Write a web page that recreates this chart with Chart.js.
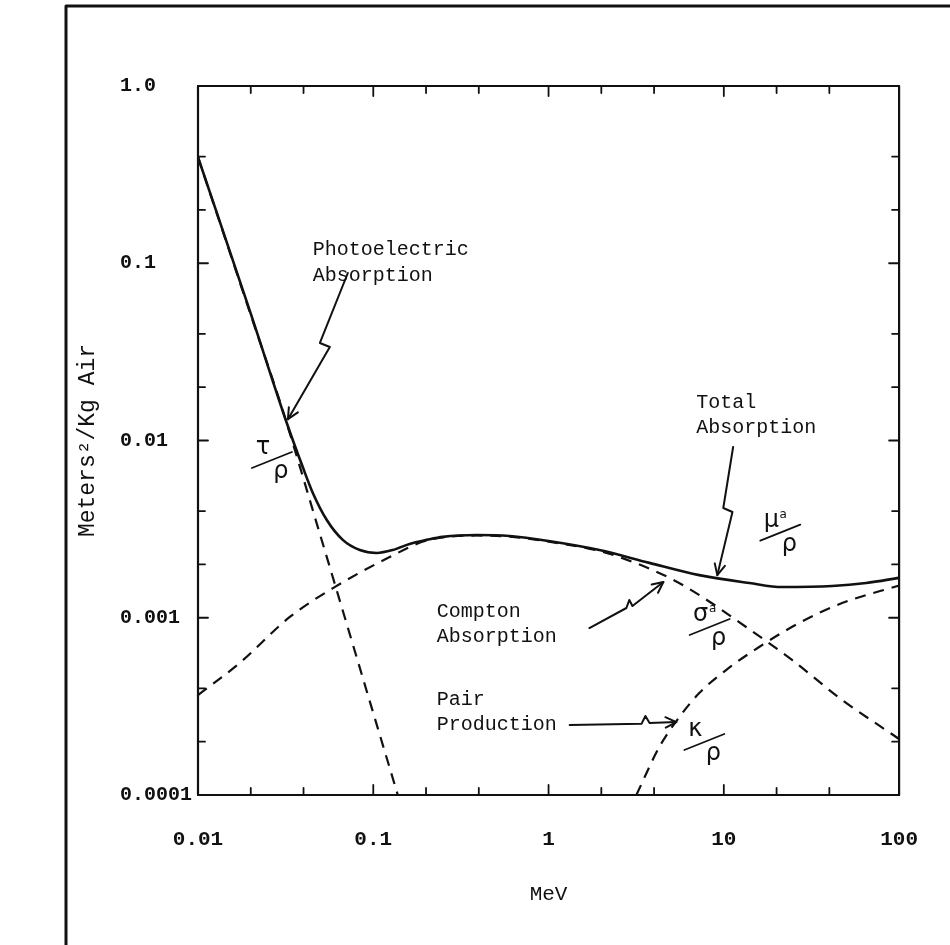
<!DOCTYPE html>
<html>
<head>
<meta charset="utf-8">
<script src="https://cdn.jsdelivr.net/npm/chart.js@4.4.1/dist/chart.umd.min.js"></script>
<style>
  html, body { margin: 0; padding: 0; background: #fff; }
  #wrap { width: 950px; height: 945px; }
</style>
</head>
<body>
<div id="wrap"><canvas id="absChart" width="950" height="945"></canvas></div>
<script>
/**************************************
 * MASS ABSORPTION COEFFICIENTS OF AIR
 **************************************/

/* ---------- AXES ---------- */
const X_TICKS = [0.01, 0.1, 1, 10, 100];
const X_LABELS = ["0.01", "0.1", "1", "10", "100"];
const Y_TICKS = [0.0001, 0.001, 0.01, 0.1, 1];
const Y_LABELS = ["0.0001", "0.001", "0.01", "0.1", "1.0"];
const MINOR_STEPS = [2, 4];

/* ---------- SERIES (MeV, m^2/kg) ---------- */
// total absorption  mu_a / rho
const TOTAL_MEV = [0.01, 0.02, 0.0321, 0.0396, 0.0452, 0.0543, 0.067, 0.0838, 0.1047, 0.129,
                   0.161, 0.202, 0.249, 0.389, 0.6, 1.0, 1.95, 3.76, 7.24, 14.0, 21.5, 41.5, 64.9, 100];
const TOTAL_VAL = [0.397, 0.052, 0.01256, 0.00708, 0.00506, 0.00356, 0.00275, 0.00241, 0.00232, 0.00241,
                   0.00261, 0.00275, 0.00286, 0.00293, 0.00289, 0.00271, 0.00241, 0.00204, 0.00174, 0.00157, 0.00149, 0.00151, 0.00157, 0.00168];

// photoelectric  tau / rho
const PHOTO_MEV = [0.01, 0.02, 0.03, 0.05, 0.08, 0.1, 0.138];
const PHOTO_VAL = [0.397, 0.0511, 0.01545, 0.00289, 0.000608, 0.00029, 0.0001];

// compton  sigma_a / rho
const COMPTON_MEV = [0.01, 0.0173, 0.0334, 0.0589, 0.124, 0.2, 0.389, 0.6, 1.0, 1.95, 2.54,
                     4.89, 7.53, 13.4, 24.5, 47.3, 100];
const COMPTON_VAL = [0.000366, 0.000556, 0.00101, 0.00147, 0.0022, 0.00272, 0.00291, 0.00287, 0.00269, 0.00238, 0.0022,
                     0.00168, 0.00131, 0.000887, 0.000578, 0.000344, 0.000207];

// pair production  kappa / rho
const PAIR_MEV = [3.17, 4.29, 5.57, 7.24, 10.3, 15.9, 26.9, 47.3, 100];
const PAIR_VAL = [0.0001, 0.000187, 0.000275, 0.000376, 0.000507, 0.000684, 0.000934, 0.00121, 0.00152];

/* ---------- ANNOTATIONS (data units) ---------- */
const NOTES = [
  { lines: ["Photoelectric", "Absorption"], mev: 0.0452, val: [0.119, 0.0848] },
  { lines: ["Total", "Absorption"], mev: 6.97, val: [0.0163, 0.01177] },
  { lines: ["Compton", "Absorption"], mev: 0.23, val: [0.00108, 0.000778] },
  { lines: ["Pair", "Production"], mev: 0.23, val: [0.000344, 0.000248] }
];

const ARROWS = [
  [[0.0716, 0.0881], [0.0496, 0.0355], [0.0565, 0.0337], [0.0326, 0.0132]],
  [[11.3, 0.00919], [9.93, 0.00416], [11.2, 0.00395], [9.18, 0.00174]],
  [[1.71, 0.000875], [2.78, 0.001135], [2.89, 0.00126], [3.01, 0.001165], [4.52, 0.00159]],
  [[1.32, 0.000248], [3.39, 0.000252], [3.57, 0.000279], [3.77, 0.000255], [5.36, 0.000258]]
];

const FRACTIONS = [
  { num: "τ", sub: "", mev: 0.0264, val: 0.00776 },
  { num: "μ", sub: "a", mev: 21.0, val: 0.00302 },
  { num: "σ", sub: "a", mev: 8.3, val: 0.000887 },
  { num: "κ", sub: "", mev: 7.74, val: 0.000199 }
];

/* ---------- STYLE ---------- */
const INK = "#111";
const MONO = "'Liberation Mono', 'DejaVu Sans Mono', monospace";

function toPoints(xs, ys) {
  return xs.map((x, i) => ({ x, y: ys[i] }));
}

function labelFor(list, labels, v) {
  const i = list.findIndex(t => Math.abs(t - v) / t < 1e-6);
  return i >= 0 ? labels[i] : "";
}

function lineSet(label, xs, ys, dashed) {
  return {
    label,
    data: toPoints(xs, ys),
    borderColor: INK,
    borderWidth: dashed ? 2.2 : 2.6,
    borderDash: dashed ? [11, 8] : [],
    pointRadius: 0,
    fill: false,
    cubicInterpolationMode: "monotone"
  };
}

/* ---------- DECORATION PLUGIN ---------- */
const paperPlugin = {
  id: "paper",
  beforeDraw(chart) {
    const c = chart.ctx;
    c.save();
    c.fillStyle = "#fff";
    c.fillRect(0, 0, chart.width, chart.height);
    c.restore();
  },
  afterDraw(chart) {
    const c = chart.ctx;
    const a = chart.chartArea;
    const xs = chart.scales.x;
    const ys = chart.scales.y;
    const px = v => xs.getPixelForValue(v);
    const py = v => ys.getPixelForValue(v);

    c.save();
    c.strokeStyle = INK;
    c.fillStyle = INK;
    c.lineCap = "round";
    c.lineJoin = "round";

    // sheet frame
    c.lineWidth = 3;
    c.beginPath();
    c.moveTo(66, chart.height);
    c.lineTo(66, 6);
    c.lineTo(chart.width, 6);
    c.stroke();

    // plot box
    c.lineWidth = 2.2;
    c.strokeRect(a.left, a.top, a.right - a.left, a.bottom - a.top);

    // inward ticks on all four sides
    c.lineWidth = 1.8;
    const tickSet = (decades) => {
      const out = [];
      decades.forEach((d, i) => {
        out.push({ v: d, major: true });
        if (i < decades.length - 1) MINOR_STEPS.forEach(m => out.push({ v: d * m, major: false }));
      });
      return out;
    };
    tickSet(X_TICKS).forEach(t => {
      const x = px(t.v);
      const len = t.major ? 10 : 7;
      c.beginPath();
      c.moveTo(x, a.bottom); c.lineTo(x, a.bottom - len);
      c.moveTo(x, a.top); c.lineTo(x, a.top + len);
      c.stroke();
    });
    tickSet(Y_TICKS).forEach(t => {
      const y = py(t.v);
      const len = t.major ? 10 : 7;
      c.beginPath();
      c.moveTo(a.left, y); c.lineTo(a.left + len, y);
      c.moveTo(a.right, y); c.lineTo(a.right - len, y);
      c.stroke();
    });

    // y axis title
    c.save();
    c.translate(88, (a.top + a.bottom) / 2);
    c.rotate(-Math.PI / 2);
    c.font = "23px " + MONO;
    c.textAlign = "center";
    c.textBaseline = "middle";
    c.fillText("Meters²/Kg Air", 0, 0);
    c.restore();

    // text notes
    c.font = "20px " + MONO;
    c.textAlign = "left";
    c.textBaseline = "middle";
    NOTES.forEach(n => {
      n.lines.forEach((t, i) => c.fillText(t, px(n.mev), py(n.val[i])));
    });

    // squiggle arrows
    c.lineWidth = 2;
    ARROWS.forEach(pts => {
      const p = pts.map(q => [px(q[0]), py(q[1])]);
      c.beginPath();
      c.moveTo(p[0][0], p[0][1]);
      p.slice(1).forEach(q => c.lineTo(q[0], q[1]));
      c.stroke();
      const [tx, ty] = p[p.length - 1];
      const [sx, sy] = p[p.length - 2];
      const ang = Math.atan2(ty - sy, tx - sx);
      c.beginPath();
      [-0.45, 0.45].forEach(d => {
        c.moveTo(tx, ty);
        c.lineTo(tx - 12 * Math.cos(ang + d), ty - 12 * Math.sin(ang + d));
      });
      c.stroke();
    });

    // hand lettered fractions
    FRACTIONS.forEach(f => {
      const cx = px(f.mev);
      const cy = py(f.val);
      c.font = "24px 'DejaVu Sans', sans-serif";
      c.textAlign = "center";
      c.textBaseline = "middle";
      c.fillText(f.num, cx - 9, cy - 12);
      if (f.sub) {
        c.font = "12px 'DejaVu Sans', sans-serif";
        c.fillText(f.sub, cx + 3, cy - 18);
      }
      c.font = "24px 'DejaVu Sans', sans-serif";
      c.fillText("ρ", cx + 9, cy + 12);
      c.lineWidth = 1.8;
      c.beginPath();
      c.moveTo(cx - 20, cy + 8);
      c.lineTo(cx + 20, cy - 8);
      c.stroke();
    });

    c.restore();
  }
};

/* ---------- CHART ---------- */
const ctx = document.getElementById("absChart").getContext("2d");

const chart = new Chart(ctx, {
  type: "line",
  data: {
    datasets: [
      lineSet("Total Absorption", TOTAL_MEV, TOTAL_VAL, false),
      lineSet("Photoelectric Absorption", PHOTO_MEV, PHOTO_VAL, true),
      lineSet("Compton Absorption", COMPTON_MEV, COMPTON_VAL, true),
      lineSet("Pair Production", PAIR_MEV, PAIR_VAL, true)
    ]
  },
  options: {
    responsive: false,
    animation: false,
    devicePixelRatio: 1,
    layout: { padding: { left: 120, top: 86, right: 50, bottom: 0 } },
    plugins: {
      legend: { display: false },
      tooltip: { enabled: false }
    },
    scales: {
      x: {
        type: "logarithmic",
        position: "bottom",
        min: 0.01,
        max: 100,
        afterBuildTicks: s => { s.ticks = X_TICKS.map(v => ({ value: v })); },
        afterFit: s => { s.height = 150; },
        grid: { display: false, drawTicks: false },
        border: { display: false },
        ticks: {
          autoSkip: false,
          maxRotation: 0,
          padding: 32,
          color: INK,
          font: { family: MONO, size: 21, weight: "bold" },
          callback: v => labelFor(X_TICKS, X_LABELS, v)
        },
        title: {
          display: true,
          text: "MeV",
          color: INK,
          font: { family: MONO, size: 21 },
          padding: { top: 0, bottom: 38 }
        }
      },
      y: {
        type: "logarithmic",
        position: "left",
        min: 0.0001,
        max: 1,
        afterBuildTicks: s => { s.ticks = Y_TICKS.map(v => ({ value: v })); },
        afterFit: s => { s.width = 78; },
        grid: { display: false, drawTicks: false },
        border: { display: false },
        ticks: {
          autoSkip: false,
          crossAlign: "far",
          color: INK,
          font: { family: MONO, size: 20, weight: "bold" },
          callback: v => labelFor(Y_TICKS, Y_LABELS, v)
        }
      }
    }
  },
  plugins: [paperPlugin]
});
</script>
</body>
</html>
